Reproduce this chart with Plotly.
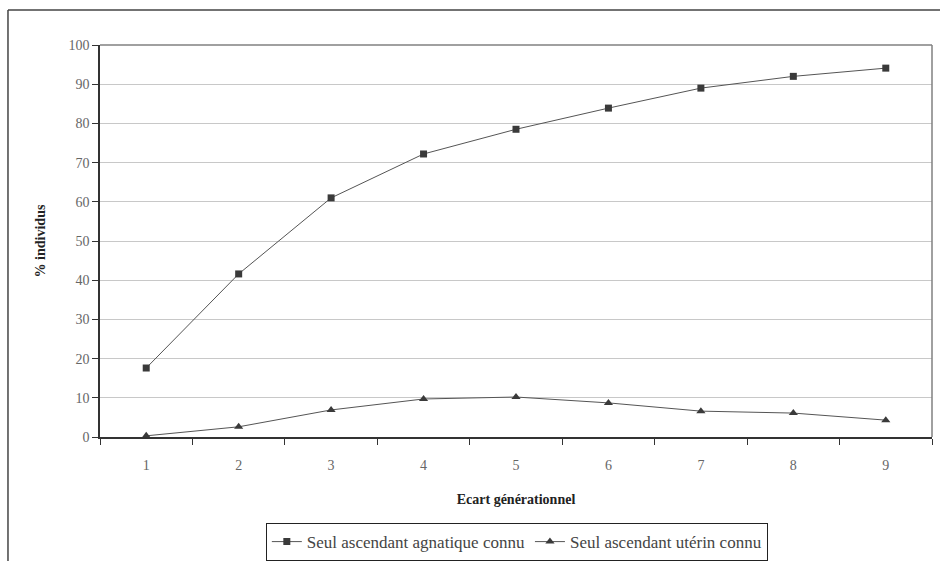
import plotly.graph_objects as go

categories = ["1", "2", "3", "4", "5", "6", "7", "8", "9"]
agnatique = [17.6, 41.6, 61.0, 72.2, 78.5, 83.9, 89.0, 92.0, 94.1]
uterin = [0.3, 2.6, 6.9, 9.7, 10.2, 8.7, 6.6, 6.1, 4.3]
y_ticks = [0, 10, 20, 30, 40, 50, 60, 70, 80, 90, 100]

FONT = "Liberation Serif, DejaVu Serif, serif"

fig = go.Figure()
fig.add_trace(go.Scatter(
    x=categories, y=agnatique, mode="lines+markers",
    name="Seul ascendant agnatique connu",
    line=dict(color="#555555", width=1),
    marker=dict(symbol="square", size=7, color="#3a3a3a"),
))
fig.add_trace(go.Scatter(
    x=categories, y=uterin, mode="lines+markers",
    name="Seul ascendant utérin connu",
    line=dict(color="#555555", width=1),
    marker=dict(symbol="triangle-up", size=8, color="#3a3a3a"),
))

fig.update_layout(
    width=940, height=561,
    margin=dict(l=100, r=8, t=45, b=124, autoexpand=False),
    paper_bgcolor="white", plot_bgcolor="white",
    font=dict(family=FONT, size=14, color="#333333"),
    showlegend=True,
    legend=dict(
        orientation="h", x=0.501, y=-0.268, xanchor="center", yanchor="middle",
        bordercolor="#222222", borderwidth=1, font=dict(family=FONT, size=17, color="#444444"),
        itemwidth=30, tracegroupgap=0,
    ),
    xaxis=dict(
        type="category", tickson="boundaries", ticks="outside", ticklen=6,
        tickcolor="#333333", showline=True, linecolor="#333333", linewidth=1.5,
        showgrid=False, range=[-0.5, 8.5], automargin=False, ticklabelstandoff=14,
        title=dict(text="<b>Ecart générationnel</b>", font=dict(family=FONT, size=14, color="#222222"), standoff=23),
        tickfont=dict(family=FONT, size=14, color="#666666"),
    ),
    yaxis=dict(
        range=[0, 100], tickvals=y_ticks, ticks="outside", ticklen=6,
        tickcolor="#333333", showline=True, linecolor="#333333", linewidth=1.5,
        showgrid=True, gridcolor="#c8c8c8", gridwidth=1, zeroline=False, automargin=False,
        title=dict(text="<b>% individus</b>", font=dict(family=FONT, size=14, color="#222222"), standoff=20),
        tickfont=dict(family=FONT, size=14, color="#666666"),
    ),
)

# plot area top and right borders
fig.add_shape(type="line", xref="paper", yref="paper", x0=0, x1=1, y0=1, y1=1,
              line=dict(color="#808080", width=1.5))
fig.add_shape(type="line", xref="paper", yref="paper", x0=1, x1=1, y0=0, y1=1,
              line=dict(color="#808080", width=1.5))
# outer chart frame (top and left visible)
fig.add_shape(type="line", xref="paper", yref="paper", x0=-0.1106, x1=1.02, y0=1.089, y1=1.089,
              line=dict(color="#444444", width=1.5))
fig.add_shape(type="line", xref="paper", yref="paper", x0=-0.1106, x1=-0.1106, y0=-0.33, y1=1.089,
              line=dict(color="#444444", width=1.5))

fig.write_html("out.html", config={"displayModeBar": False},
               post_script="document.body.style.margin='0';")
